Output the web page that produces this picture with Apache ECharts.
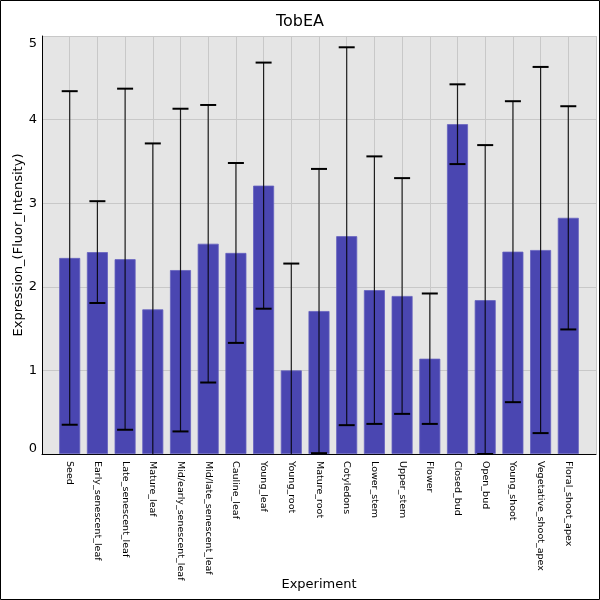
<!DOCTYPE html>
<html>
<head>
<meta charset="utf-8">
<script src="https://cdn.jsdelivr.net/npm/echarts@6/dist/echarts.min.js"></script>
<style>
html,body{margin:0;padding:0;background:#fff;}
#chart{width:600px;height:600px;}
</style>
</head>
<body>
<div id="chart"></div>
<script>
const categories = ["Seed","Early_senescent_leaf","Late_senescent_leaf","Mature_leaf","Mid/early_senescent_leaf","Mid/late_senescent_leaf","Cauline_leaf","Young_leaf","Young_root","Mature_root","Cotyledons","Lower_stem","Upper_stem","Flower","Closed_bud","Open_bud","Young_shoot","Vegetative_shoot_apex","Floral_shoot_apex"];
const means = [2.345, 2.415, 2.33, 1.73, 2.2, 2.515, 2.405, 3.21, 1.0, 1.71, 2.605, 1.96, 1.89, 1.14, 3.945, 1.84, 2.42, 2.44, 2.825];
const sds = [1.995, 0.609, 2.04, 1.985, 1.93, 1.66, 1.076, 1.472, 1.278, 1.70, 2.26, 1.60, 1.41, 0.78, 0.477, 1.855, 1.80, 2.19, 1.335];
const yTicks = [0, 1, 2, 3, 4, 5];

const FONT = 'DejaVu Sans';
const axisCats = [''].concat(categories, ['']);
const barData = [null].concat(means, [null]);
const errData = categories.map((c, i) => [i + 1, means[i] - sds[i], means[i] + sds[i]]);
const yMin = yTicks[0], yMax = yTicks[yTicks.length - 1];

const chart = echarts.init(document.getElementById('chart'));
chart.setOption({
  animation: false,
  textStyle: {fontFamily: FONT},
  title: {
    text: 'TobEA', left: 'center', top: 9,
    textStyle: {fontFamily: FONT, fontSize: 16, fontWeight: 'normal', color: '#000'}
  },
  graphic: [{
    type: 'rect', silent: true, z: 100,
    shape: {x: 0.5, y: 0.5, width: 599, height: 599},
    style: {fill: 'none', stroke: '#000', lineWidth: 1}
  }],
  grid: {
    left: 42, right: 4, top: 36, bottom: 146,
    containLabel: false, outerBoundsMode: 'none',
    show: true, backgroundColor: '#e5e5e5', borderWidth: 0
  },
  xAxis: {
    type: 'category', data: axisCats, boundaryGap: false,
    name: 'Experiment', nameLocation: 'middle', nameGap: 124, nameMoveOverlap: false,
    nameTextStyle: {fontFamily: FONT, fontSize: 13, color: '#000'},
    axisLine: {show: true, lineStyle: {color: '#000', width: 1}},
    axisTick: {show: false},
    axisLabel: {interval: 0, rotate: -90, fontFamily: FONT, fontSize: 9.5, color: '#000', margin: 7},
    splitLine: {show: true, interval: 0, lineStyle: {color: '#c8c8c8', width: 1}}
  },
  yAxis: {
    type: 'value', min: yMin, max: yMax, interval: 1,
    name: 'Expression_(Fluor_Intensity)', nameLocation: 'middle', nameGap: 17, nameMoveOverlap: false,
    nameTextStyle: {fontFamily: FONT, fontSize: 13, color: '#000'},
    axisLine: {show: true, lineStyle: {color: '#000', width: 1}},
    axisTick: {show: false},
    axisLabel: {
      fontFamily: FONT, fontSize: 13, color: '#000', margin: 5,
      formatter: function (v) {
        if (v === yMin) return '{lo|' + v + '}';
        if (v === yMax) return '{hi|' + v + '}';
        return String(v);
      },
      rich: {
        lo: {fontFamily: FONT, fontSize: 13, color: '#000', padding: [0, 0, 11, 0]},
        hi: {fontFamily: FONT, fontSize: 13, color: '#000', padding: [16, 0, 0, 0]}
      }
    },
    splitLine: {show: true, lineStyle: {color: '#c8c8c8', width: 1}}
  },
  series: [
    {
      type: 'bar', data: barData, barWidth: 21,
      itemStyle: {color: '#4a46b1', borderColor: '#6662bf', borderWidth: 0.8},
      z: 2
    },
    {
      type: 'custom', data: errData, z: 5,
      renderItem: function (params, api) {
        const x = api.value(0);
        const lo = api.value(1), hi = api.value(2);
        const pTop = api.coord([x, Math.min(hi, yMax)]);
        const pBot = api.coord([x, Math.max(lo, yMin)]);
        const half = 8;
        const children = [{
          type: 'line',
          shape: {x1: pTop[0], y1: pTop[1], x2: pBot[0], y2: pBot[1]},
          style: {stroke: '#000', lineWidth: 1.2, opacity: 0.85}
        }];
        if (hi <= yMax) children.push({
          type: 'line',
          shape: {x1: pTop[0] - half, y1: pTop[1], x2: pTop[0] + half, y2: pTop[1]},
          style: {stroke: '#000', lineWidth: 2}
        });
        if (lo >= yMin - 0.02) children.push({
          type: 'line',
          shape: {x1: pBot[0] - half, y1: pBot[1], x2: pBot[0] + half, y2: pBot[1]},
          style: {stroke: '#000', lineWidth: 2}
        });
        return {type: 'group', children: children};
      }
    }
  ]
});
</script>
</body>
</html>
